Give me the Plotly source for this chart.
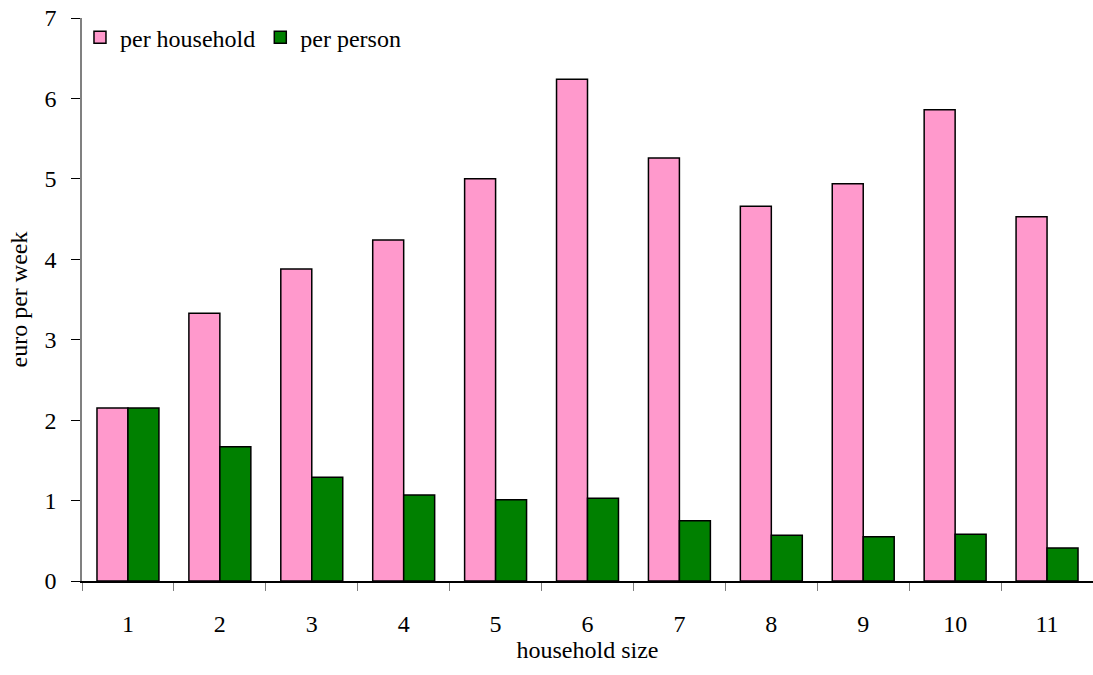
import plotly.graph_objects as go

categories = ["1", "2", "3", "4", "5", "6", "7", "8", "9", "10", "11"]
per_household = [2.15, 3.33, 3.88, 4.24, 5.00, 6.24, 5.26, 4.66, 4.94, 5.86, 4.53]
per_person = [2.15, 1.67, 1.29, 1.07, 1.01, 1.03, 0.75, 0.57, 0.55, 0.58, 0.41]
y_ticks = [0, 1, 2, 3, 4, 5, 6, 7]

FONT = "Liberation Serif, Times New Roman, serif"

fig = go.Figure()
fig.add_trace(go.Bar(x=categories, y=per_household, name="per household",
                     marker=dict(color="#FF99CC", line=dict(color="#000000", width=1.5))))
fig.add_trace(go.Bar(x=categories, y=per_person, name="per person",
                     marker=dict(color="#008000", line=dict(color="#000000", width=1.5))))

fig.update_layout(
    width=1093, height=675,
    margin=dict(l=82, r=0, t=18, b=94, autoexpand=False),
    paper_bgcolor="white", plot_bgcolor="white",
    font=dict(family=FONT, size=24, color="black"),
    barmode="group", bargap=0.326, bargroupgap=0,
    showlegend=True,
    legend=dict(orientation="h", x=-0.002, y=1.005, xanchor="left", yanchor="top",
                bgcolor="rgba(0,0,0,0)", font=dict(family=FONT, size=24),
                itemwidth=30, traceorder="normal"),
)
fig.update_xaxes(
    type="category", tickson="boundaries", ticks="outside", ticklen=8,
    tickcolor="#808080", showline=True, linecolor="#000000", linewidth=1.5,
    showgrid=False, zeroline=False, ticklabelstandoff=20, automargin=False,
    ticklabeloverflow="allow",
    title=dict(text="household size", standoff=6, font=dict(family=FONT, size=24)),
)
fig.update_yaxes(
    range=[0, 7], tickvals=y_ticks, ticks="outside", ticklen=9,
    tickcolor="#000000", showline=True, linecolor="#808080", linewidth=1.5,
    showgrid=False, zeroline=False, ticklabelstandoff=10, automargin=False,
    ticklabeloverflow="allow",
    title=dict(text="euro per week", standoff=10, font=dict(family=FONT, size=24)),
)

fig.write_html("out.html",
               config={"displayModeBar": False},
               post_script="document.body.style.margin='0';document.body.style.overflow='hidden';")
